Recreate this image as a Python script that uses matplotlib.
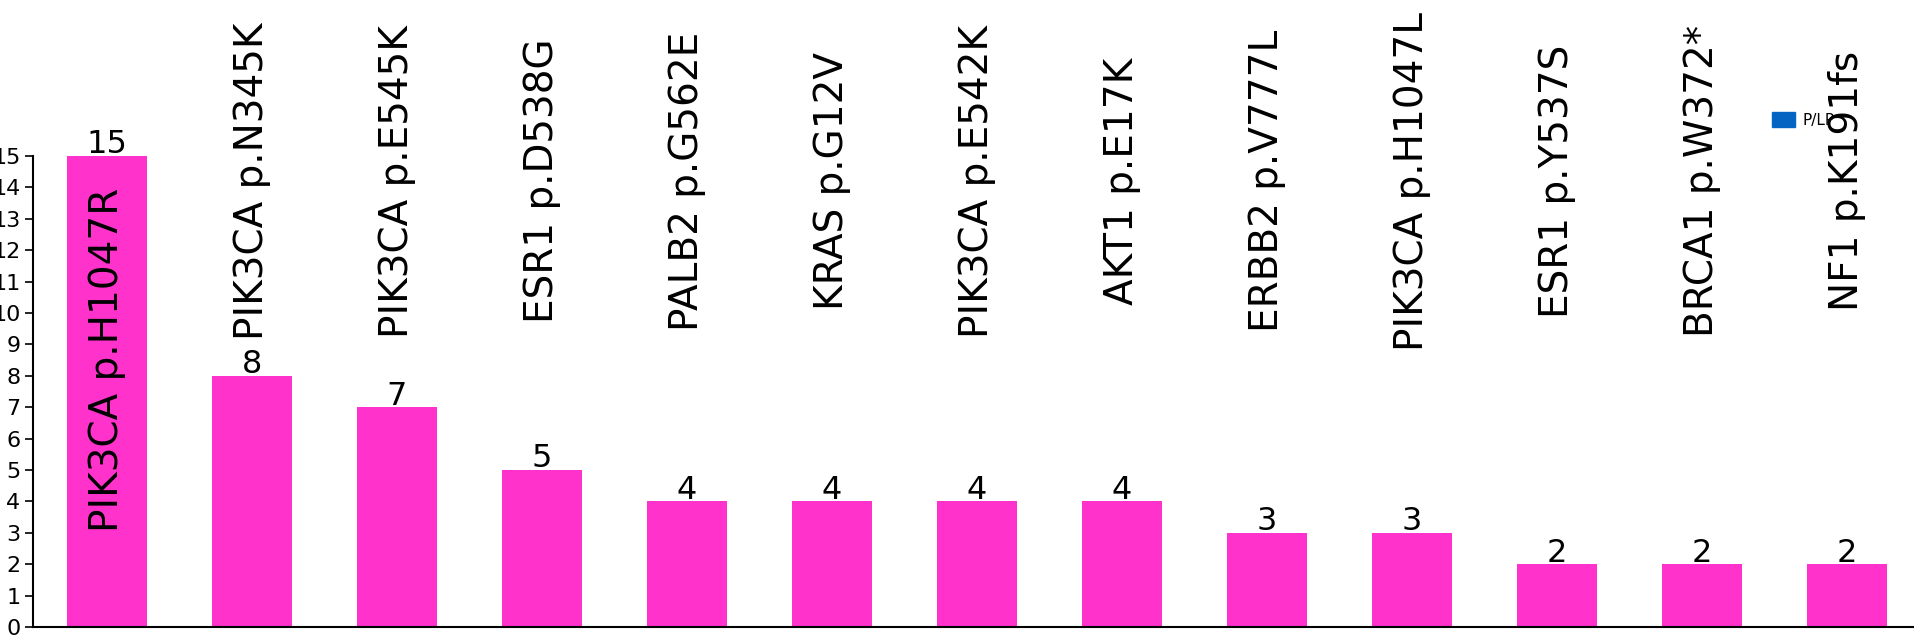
import matplotlib.pyplot as plt
from matplotlib.patches import Patch

# variants and counts
variants = ["PIK3CA p.H1047R", "PIK3CA p.N345K", "PIK3CA p.E545K", "ESR1 p.D538G",
            "PALB2 p.G562E", "KRAS p.G12V", "PIK3CA p.E542K", "AKT1 p.E17K",
            "ERBB2 p.V777L", "PIK3CA p.H1047L", "ESR1 p.Y537S", "BRCA1 p.W372*",
            "NF1 p.K191fs"]
counts = [15, 8, 7, 5, 4, 4, 4, 4, 3, 3, 2, 2, 2]
yticks = list(range(0, 16))

bar_color = "#FF33CC"
legend_color = "#0563C1"

fig = plt.figure(figsize=(19.15, 6.43), dpi=100)
ax = fig.add_axes([33 / 1915, 16 / 643, 1 - 33 / 1915, (627 - 156) / 643])

x = list(range(len(variants)))
ax.bar(x, counts, width=0.55, color=bar_color)

ax.set_xlim(-0.51, 12.47)
ax.set_ylim(0, 15)
ax.set_yticks(yticks)
ax.tick_params(axis="y", labelsize=16, length=6, width=1.2, direction="out", pad=3)
ax.set_xticks([])
for s in ["top", "right"]:
    ax.spines[s].set_visible(False)
ax.spines["left"].set_linewidth(1.5)
ax.spines["bottom"].set_linewidth(1.5)

for xi, c, name in zip(x, counts, variants):
    # value on top of bar
    ax.text(xi, c + 0.08, str(c), ha="center", va="baseline", fontsize=23, clip_on=False)
    # category label, rotated
    ycen = 8.5 if c > 14 else 14.2
    ax.text(xi, ycen, name, rotation=90, ha="center", va="center", fontsize=28,
            clip_on=False)

leg = ax.legend(handles=[Patch(color=legend_color, label="P/LP")],
                loc="center left", bbox_to_anchor=(1772 / 1915, 1 - 120 / 643),
                bbox_transform=fig.transFigure, frameon=False, fontsize=11,
                borderpad=0, borderaxespad=0, handlelength=1.5, handleheight=1.1,
                handletextpad=0.5)
leg.set_zorder(10)

fig.savefig("out.png", dpi=100)
